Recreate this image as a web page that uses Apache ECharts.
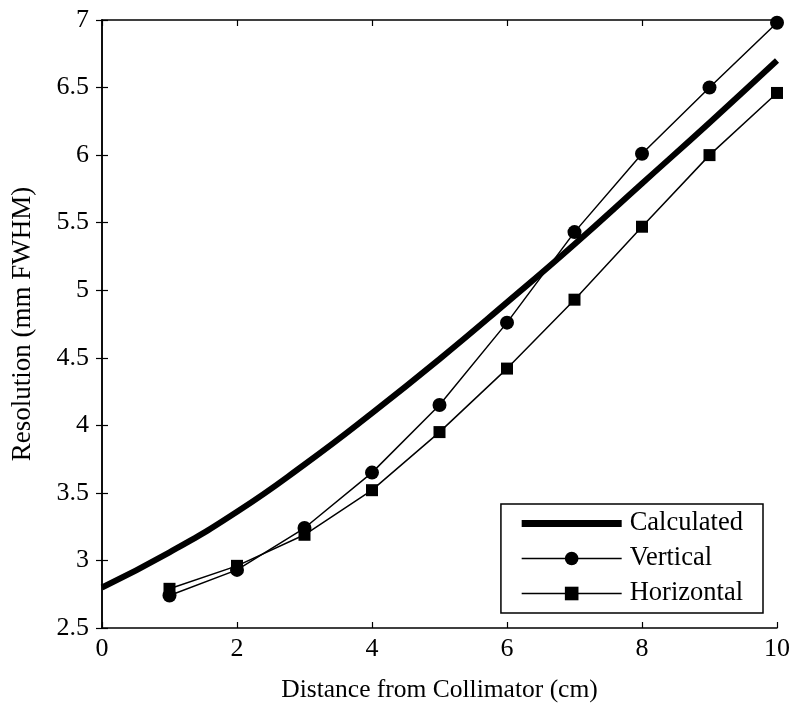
<!DOCTYPE html>
<html><head><meta charset="utf-8">
<script src="https://cdn.jsdelivr.net/npm/echarts@6/dist/echarts.min.js"></script>
<style>html,body{margin:0;padding:0;background:#fff}#c{width:800px;height:713px}</style>
</head><body><div id="c"></div>
<script>
const calcX = [0,1,2,3,4,5,6,7,8,9,10];
const calcY = [2.80,3.06,3.36,3.71,4.09,4.49,4.91,5.34,5.79,6.24,6.70];
const measX = [1,2,3,4,5,6,7,8,9,10];
const vertical = [2.74,2.93,3.24,3.65,4.15,4.76,5.43,6.01,6.50,6.98];
const horizontal = [2.79,2.96,3.19,3.52,3.95,4.42,4.93,5.47,6.00,6.46];
const seriesNames = ['Calculated', 'Vertical', 'Horizontal'];
const xTitle = 'Distance from Collimator (cm)';
const yTitle = 'Resolution (mm FWHM)';

const font = 'Liberation Serif';
const pair = (xs, ys) => xs.map((x, i) => [x, ys[i]]);
const chart = echarts.init(document.getElementById('c'));
const axisCommon = {
  axisLine: {show: true, lineStyle: {color: '#000', width: 1.5}},
  axisTick: {show: true, inside: true, length: 6, lineStyle: {color: '#000', width: 1.2}},
  splitLine: {show: false}
};
chart.setOption({
  animation: false,
  backgroundColor: '#fff',
  grid: {left: 102, right: 23, top: 20, bottom: 85},
  xAxis: [
    Object.assign({type: 'value', min: 0, max: 10, interval: 2, position: 'bottom',
      name: xTitle, nameLocation: 'middle', nameGap: 49,
      nameTextStyle: {fontFamily: font, fontSize: 25.5, color: '#000'},
      axisLabel: {fontFamily: font, fontSize: 26, color: '#000', margin: 8}}, axisCommon),
    Object.assign({type: 'value', min: 0, max: 10, interval: 2, position: 'top',
      axisLabel: {show: false}}, axisCommon)
  ],
  yAxis: [
    Object.assign({type: 'value', min: 2.5, max: 7, interval: 0.5, position: 'left',
      name: yTitle, nameLocation: 'middle', nameGap: 66,
      nameTextStyle: {fontFamily: font, fontSize: 27, color: '#000'},
      axisLabel: {fontFamily: font, fontSize: 26, color: '#000', margin: 13}}, axisCommon),
    Object.assign({type: 'value', min: 2.5, max: 7, interval: 0.5, position: 'right',
      axisLabel: {show: false}}, axisCommon)
  ],
  legend: {
    orient: 'vertical', right: 37, bottom: 100,
    backgroundColor: '#fff', borderColor: '#000', borderWidth: 1.5, borderRadius: 0,
    padding: [6, 20, 6, 20], itemGap: 8,
    itemWidth: 100, itemHeight: 17,
    textStyle: {fontFamily: font, fontSize: 26.5, color: '#000', padding: [0, 0, 0, 3]},
    data: [
      {name: seriesNames[0], icon: 'path://M0,0H100V7H0Z', itemStyle: {color: '#000'}},
      {name: seriesNames[1], lineStyle: {width: 1.5, color: '#000'}},
      {name: seriesNames[2], lineStyle: {width: 1.5, color: '#000'}}
    ]
  },
  series: [
    {name: seriesNames[0], type: 'line', data: pair(calcX, calcY), smooth: true, showSymbol: false,
      symbol: 'none', lineStyle: {color: '#000', width: 6}, itemStyle: {color: '#000'}},
    {name: seriesNames[1], type: 'line', data: pair(measX, vertical), symbol: 'circle', symbolSize: 14,
      lineStyle: {color: '#000', width: 1.5}, itemStyle: {color: '#000'}},
    {name: seriesNames[2], type: 'line', data: pair(measX, horizontal), symbol: 'rect', symbolSize: 12,
      lineStyle: {color: '#000', width: 1.5}, itemStyle: {color: '#000'}}
  ]
});
</script></body></html>
